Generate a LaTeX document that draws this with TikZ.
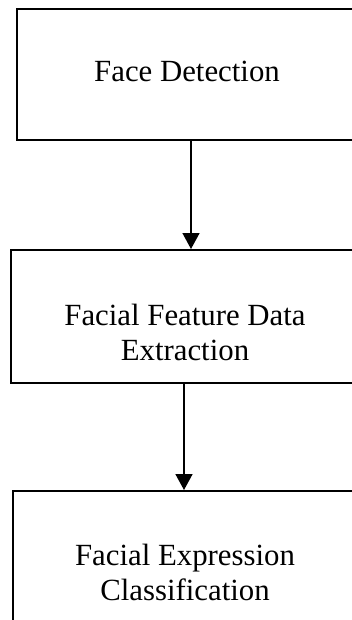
\documentclass[tikz,border=0pt]{standalone}
\usepackage{fontspec}
\setmainfont{Liberation Serif}
\usetikzlibrary{arrows.meta}

\begin{document}
\begin{tikzpicture}[x=0.5pt,y=-0.5pt,
 block/.style={
      rectangle,
      draw=black,
      line width=1pt,
      anchor=north west,
      inner sep=0pt
   },
   txt/.style={
    inner sep=0pt,
    align=center,
    font=\fontsize{15.4}{17.5}\selectfont
   },
   arrow/.style={
    line width=0.8pt,
    -{Triangle[length=8pt,width=8.5pt]}
   }
 ]
 \useasboundingbox (0,0) rectangle (352,620);
 \clip (0,0) rectangle (352,620);

 %face detection
 \node[block,minimum width=190pt,minimum height=65.5pt] (fd) at (16,8) {};
 \node[txt,anchor=base] (fdtext) at (187,82) {Face Detection};

 %feature extraction
 \node[block,minimum width=195pt,minimum height=66.5pt] (ffde) at (10,249) {};
 \node[txt] (ffdetext) at (185,332) {Facial Feature Data\\Extraction};

 %classification
 \node[block,minimum width=195pt,minimum height=75pt] (fec) at (12,490) {};
 \node[txt] (fectext) at (185,572) {Facial Expression\\Classification};

 %arrows
 \draw[arrow] ([xshift=-8pt]fd.south) -- ([xshift=-8pt]fd.south |- ffde.north);
 \draw[arrow] ([xshift=-11pt]ffde.south) -- ([xshift=-11pt]ffde.south |- fec.north);
\end{tikzpicture}
\end{document}
